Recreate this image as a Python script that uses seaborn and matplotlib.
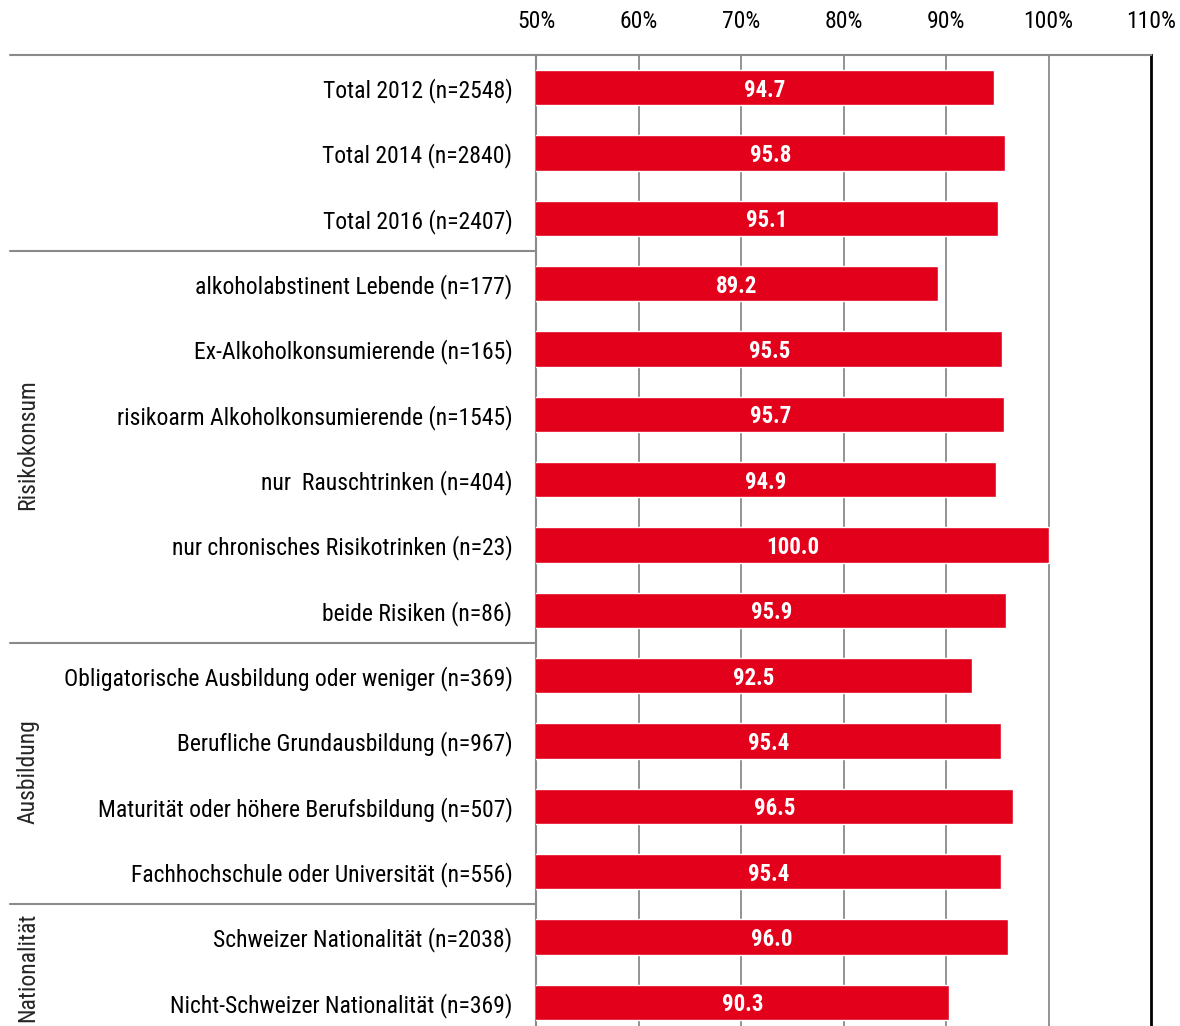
import matplotlib
matplotlib.use('Agg')
import matplotlib.pyplot as plt
from matplotlib import font_manager
import seaborn as sns
import pandas as pd

# Data
labels = [
    'Total 2012 (n=2548)',
    'Total 2014 (n=2840)',
    'Total 2016 (n=2407)',
    'alkoholabstinent Lebende (n=177)',
    'Ex-Alkoholkonsumierende (n=165)',
    'risikoarm Alkoholkonsumierende (n=1545)',
    'nur  Rauschtrinken (n=404)',
    'nur chronisches Risikotrinken (n=23)',
    'beide Risiken (n=86)',
    'Obligatorische Ausbildung oder weniger (n=369)',
    'Berufliche Grundausbildung (n=967)',
    'Maturität oder höhere Berufsbildung (n=507)',
    'Fachhochschule oder Universität (n=556)',
    'Schweizer Nationalität (n=2038)',
    'Nicht-Schweizer Nationalität (n=369)',
]
values = [94.7, 95.8, 95.1, 89.2, 95.5, 95.7, 94.9, 100.0, 95.9,
          92.5, 95.4, 96.5, 95.4, 96.0, 90.3]
groups = ['Risikokonsum', 'Ausbildung', 'Nationalität']
group_rows = [(3, 8), (9, 12), (13, 14)]
separators = [-0.5, 2.5, 8.5, 12.5]
x_ticks = [50, 60, 70, 80, 90, 100, 110]

df = pd.DataFrame({'label': labels, 'value': values})

sns.set_style('white')

# pick a narrow font if one is installed, else plain Liberation Sans
installed = {f.name for f in font_manager.fontManager.ttflist}
narrow = [n for n in ['Liberation Sans Narrow', 'Arial Narrow', 'Roboto Condensed',
                      'Open Sans Condensed'] if n in installed]
if narrow:
    plt.rcParams['font.family'] = [narrow[0], 'DejaVu Sans']
    fs, fs_val = 17, 16.5
else:
    plt.rcParams['font.family'] = ['Liberation Sans', 'DejaVu Sans']
    fs, fs_val = 15, 14.5

fig = plt.figure(figsize=(11.8, 10.26), dpi=100)
ax = fig.add_axes([536 / 1180, 1 - 1035 / 1026, 615 / 1180, 980 / 1026])

red = '#E2001A'
sns.barplot(data=df, x='value', y='label', orient='h', color=red,
            width=0.54, saturation=1, ax=ax, zorder=3)

ax.set_xlim(50, 110)
ax.set_ylim(len(labels) - 0.5, -0.5)
ax.set_xticks(x_ticks)
ax.set_xticklabels([f'{t}%' for t in x_ticks])
ax.xaxis.tick_top()
ax.tick_params(axis='x', length=0, pad=16, labelsize=fs, colors='black')
ax.tick_params(axis='y', length=0, pad=17, labelsize=fs, colors='black')
ax.set_xlabel('')
ax.set_ylabel('')

# vertical gridlines (visible between the bars)
for t in x_ticks[1:-1]:
    ax.axvline(t, color='#8a8a8a', lw=1.3, zorder=1)

ax.spines['bottom'].set_visible(False)
ax.spines['left'].set_color('#8a8a8a')
ax.spines['left'].set_linewidth(1.5)
ax.spines['top'].set_color('#8a8a8a')
ax.spines['top'].set_linewidth(1.5)
ax.spines['right'].set_color('black')
ax.spines['right'].set_linewidth(2)

# value labels centred in the bars
for i, v in enumerate(values):
    ax.text((50 + v) / 2, i, f'{v:.1f}', ha='center', va='center_baseline',
            color='white', fontsize=fs_val, fontweight='bold', zorder=4)

# group separators on the label side
trans = ax.get_yaxis_transform()
for s in separators:
    ax.plot([(10 - 536) / 615, 0], [s, s], transform=trans, color='#8a8a8a',
            lw=1.5, clip_on=False, zorder=5)

# rotated group labels
for g, (a, b) in zip(groups, group_rows):
    ax.text((28 - 536) / 615, (a + b) / 2 - 0.03, g, transform=trans, rotation=90,
            ha='center', va='center', fontsize=fs, clip_on=False)

fig.savefig('out.png', dpi=100)
plt.close(fig)
